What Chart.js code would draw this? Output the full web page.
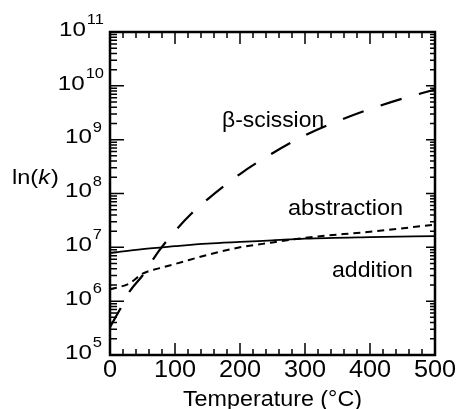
<!DOCTYPE html>
<html>
<head>
<meta charset="utf-8">
<script src="https://cdn.jsdelivr.net/npm/chart.js@4"></script>
<style>
  html, body { margin: 0; padding: 0; background: #fff; }
  #wrap { width: 456px; height: 409px; }
</style>
</head>
<body>
<div id="wrap"><canvas id="rateCanvas" width="456" height="409"></canvas></div>
<script>
// rate constants vs temperature
const scissionTemps = [0, 15, 30, 50, 75, 100, 125, 150, 200, 250, 300, 350, 400, 450, 500];
const scissionRates = [3.3e5, 6.9e5, 1.5e6, 3.0e6, 8.5e6, 2.0e7, 4.2e7, 7.8e7, 2.3e8, 5.6e8, 1.2e9, 2.2e9, 3.7e9, 5.8e9, 8.5e9];

const abstractionTemps = [0, 30, 50, 75, 100, 150, 200, 250, 300, 400, 500];
const abstractionRates = [1.66e6, 2.14e6, 3.24e6, 4.07e6, 4.9e6, 7.24e6, 1.0e7, 1.23e7, 1.5e7, 1.95e7, 2.63e7];

const additionTemps = [0, 50, 100, 150, 200, 250, 300, 400, 500];
const additionRates = [7.8e6, 9.3e6, 1.05e7, 1.17e7, 1.26e7, 1.35e7, 1.45e7, 1.55e7, 1.62e7];

const xTickLabels = ['0', '100', '200', '300', '400', '500'];
const yExponents = [5, 6, 7, 8, 9, 10, 11];

const FONT = '"Liberation Sans", Arial, Helvetica, sans-serif';

function toPoints(xs, ys) {
    return xs.map((x, i) => ({ x: x, y: ys[i] }));
}

// text drawn slightly wider than the font's natural width
function wideText(ctx, text, x, y, size, sx, align, style) {
    ctx.save();
    ctx.font = (style ? style + ' ' : '') + size + 'px ' + FONT;
    ctx.translate(x, y);
    ctx.scale(sx, 1);
    ctx.textAlign = align;
    ctx.fillText(text, 0, 0);
    const w = ctx.measureText(text).width * sx;
    ctx.restore();
    return w;
}

// frame with inward ticks on all four sides, axis labels and curve labels
const frameAndLabels = {
    id: 'frameAndLabels',
    afterDraw(chart) {
        const ctx = chart.ctx;
        const area = chart.chartArea;
        const xs = chart.scales.x;
        const ys = chart.scales.y;

        ctx.save();
        ctx.strokeStyle = '#000';
        ctx.lineWidth = 2.5;
        ctx.strokeRect(area.left, area.top, area.right - area.left, area.bottom - area.top);

        ctx.lineWidth = 1.5;
        ctx.beginPath();
        for (let t = 0; t <= 500; t += 20) {
            const px = xs.getPixelForValue(t);
            const len = t % 100 === 0 ? 12 : 6;
            ctx.moveTo(px, area.bottom);
            ctx.lineTo(px, area.bottom - len);
            ctx.moveTo(px, area.top);
            ctx.lineTo(px, area.top + len);
        }
        for (let d = 5; d <= 11; d++) {
            for (let m = 1; m <= 9; m++) {
                if (d === 11 && m > 1) break;
                const py = ys.getPixelForValue(m * Math.pow(10, d));
                const major = m === 1;
                ctx.moveTo(area.left, py);
                ctx.lineTo(area.left + (major ? 14 : 7), py);
                ctx.moveTo(area.right, py);
                ctx.lineTo(area.right - (major ? 9 : 5), py);
            }
        }
        ctx.stroke();

        ctx.fillStyle = '#000';
        ctx.textBaseline = 'middle';

        // y tick labels: 10 with raised exponent
        yExponents.forEach(e => {
            const py = ys.getPixelForValue(Math.pow(10, e));
            const expText = String(e);
            const right = expText.length > 1 ? 104 : 102;
            ctx.font = '15px ' + FONT;
            const expW = ctx.measureText(expText).width * 1.1;
            wideText(ctx, expText, right, py - 12, 15, 1.1, 'right');
            wideText(ctx, '10', right - expW - 1, py - 2, 21, 1.15, 'right');
        });

        // x tick labels
        xTickLabels.forEach(label => {
            const px = xs.getPixelForValue(Number(label));
            wideText(ctx, label, px, 371, 23, 1.1, 'center');
        });

        // y axis title ln(k) with italic k
        let x0 = 12;
        x0 += wideText(ctx, 'ln(', x0, 178, 21, 1.12, 'left');
        x0 += wideText(ctx, 'k', x0, 178, 21, 1.12, 'left', 'italic') + 1;
        wideText(ctx, ')', x0, 178, 21, 1.12, 'left');

        // x axis title
        ctx.textBaseline = 'alphabetic';
        wideText(ctx, 'Temperature (\u00B0C)', (area.left + area.right) / 2, 406, 22, 1.06, 'center');

        // curve labels
        ctx.textBaseline = 'middle';
        wideText(ctx, '\u03B2-scission', 222, 121, 22, 1.04, 'left');
        wideText(ctx, 'abstraction', 288, 209, 22, 1.07, 'left');
        wideText(ctx, 'addition', 332, 271, 22, 1.05, 'left');
        ctx.restore();
    }
};

const ctx = document.getElementById('rateCanvas').getContext('2d');

new Chart(ctx, {
    type: 'line',
    data: {
        datasets: [
            {
                label: '\u03B2-scission',
                data: toPoints(scissionTemps, scissionRates),
                borderColor: '#000',
                borderWidth: 2.2,
                borderDash: [22, 18],
                pointRadius: 0,
                cubicInterpolationMode: 'monotone',
                fill: false
            },
            {
                label: 'abstraction',
                data: toPoints(abstractionTemps, abstractionRates),
                borderColor: '#000',
                borderWidth: 2,
                borderDash: [7, 5],
                pointRadius: 0,
                cubicInterpolationMode: 'monotone',
                fill: false
            },
            {
                label: 'addition',
                data: toPoints(additionTemps, additionRates),
                borderColor: '#000',
                borderWidth: 1.8,
                pointRadius: 0,
                cubicInterpolationMode: 'monotone',
                fill: false
            }
        ]
    },
    options: {
        responsive: false,
        animation: false,
        layout: {
            padding: { left: 110, right: 21, top: 32, bottom: 54 }
        },
        scales: {
            x: {
                type: 'linear',
                display: false,
                min: 0,
                max: 500
            },
            y: {
                type: 'logarithmic',
                display: false,
                min: 1e5,
                max: 1e11
            }
        },
        plugins: {
            legend: { display: false },
            tooltip: { enabled: false }
        }
    },
    plugins: [frameAndLabels]
});
</script>
</body>
</html>
